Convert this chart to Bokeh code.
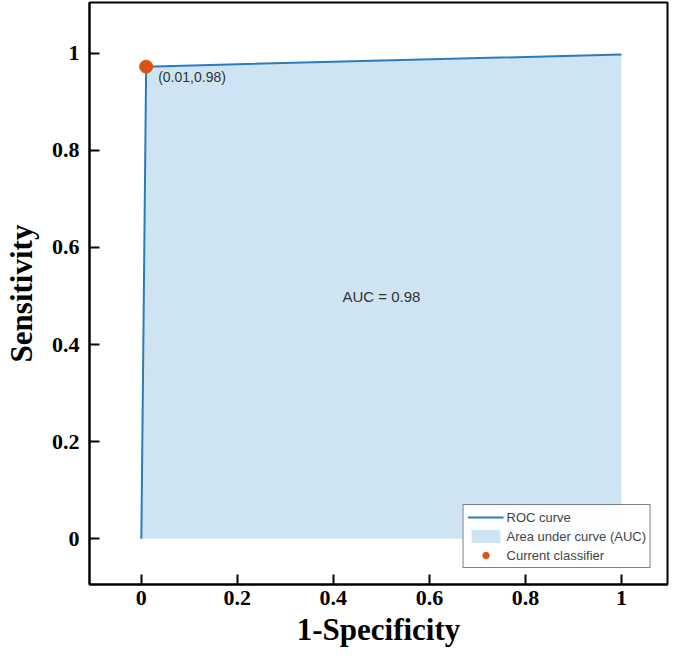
from bokeh.plotting import figure
from bokeh.models import FixedTicker, Range1d, Legend, LegendItem, Label
from bokeh.embed import file_html
from bokeh.resources import INLINE

# ROC data
fpr = [0.0, 0.01, 1.0]
tpr = [0.0, 0.972, 0.997]
zero = [0.0, 0.0, 0.0]
classifier_x = [0.01]
classifier_y = [0.972]
classifier_label = "(0.01,0.98)"
auc_text = "AUC = 0.98"
tick_vals = [0, 0.2, 0.4, 0.6, 0.8, 1]
tick_labels = ["0", "0.2", "0.4", "0.6", "0.8", "1"]

p = figure(width=669, height=649, output_backend="svg", toolbar_location=None,
           x_range=Range1d(-0.108, 1.096), y_range=Range1d(-0.094, 1.104),
           min_border_left=88, min_border_right=2, min_border_top=2, min_border_bottom=0)

p.xgrid.visible = False
p.ygrid.visible = False
p.outline_line_color = "black"
p.outline_line_width = 2
p.outline_line_alpha = 1

area = p.varea(x=fpr, y1=zero, y2=tpr, fill_color="#cfe4f2", fill_alpha=1)
line = p.line(x=fpr, y=tpr, line_color="#2a7cbd", line_width=2)
pt = p.scatter(x=classifier_x, y=classifier_y, size=13, fill_color="#d95319",
               line_color="#d95319")

p.add_layout(Label(x=0.035, y=0.951, text=classifier_label, text_font="Liberation Sans",
                   text_font_size="14px", text_color="#333333", text_baseline="middle"))
p.add_layout(Label(x=0.5, y=0.498, text=auc_text, text_font="Liberation Sans",
                   text_font_size="15px", text_color="#333333", text_align="center",
                   text_baseline="middle"))

for ax in (p.xaxis[0], p.yaxis[0]):
    ax.ticker = FixedTicker(ticks=tick_vals)
    ax.major_label_overrides = {v: l for v, l in zip(tick_vals, tick_labels)}
    ax.minor_tick_line_color = None
    ax.major_tick_in = 10
    ax.major_tick_out = 0
    ax.major_tick_line_width = 2
    ax.major_tick_line_color = "black"
    ax.axis_line_width = 2
    ax.axis_line_color = "black"
    ax.major_label_text_font = "Liberation Serif"
    ax.major_label_text_font_style = "bold"
    ax.major_label_text_font_size = "22px"
    ax.major_label_text_color = "black"
    ax.axis_label_text_font = "Liberation Serif"
    ax.axis_label_text_font_style = "bold"
    ax.axis_label_text_font_size = "31px"
    ax.axis_label_text_color = "black"

p.xaxis.axis_label = "1-Specificity"
p.yaxis.axis_label = "Sensitivity"
p.xaxis.major_label_standoff = 6
p.yaxis.major_label_standoff = 10
p.xaxis.axis_label_standoff = 4
p.yaxis.axis_label_standoff = 10

legend = Legend(items=[
    LegendItem(label="ROC curve", renderers=[line]),
    LegendItem(label="Area under curve (AUC)", renderers=[area]),
    LegendItem(label="Current classifier", renderers=[pt]),
], location="bottom_right")
legend.label_text_font = "Liberation Sans"
legend.label_text_font_size = "13px"
legend.label_height = 16
legend.glyph_height = 16
legend.glyph_width = 36
legend.spacing = 3
legend.padding = 4
legend.margin = 16
legend.border_line_color = "black"
legend.border_line_width = 1
legend.label_standoff = 3
p.add_layout(legend)

open("out.html", "w").write(file_html(p, INLINE))
